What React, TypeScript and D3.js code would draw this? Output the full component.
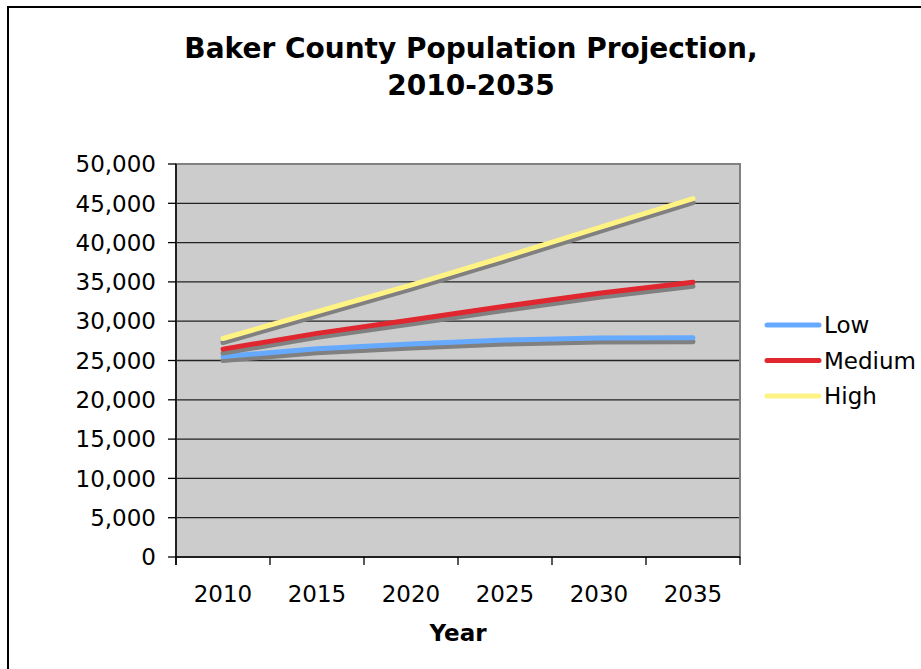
import React from "react";
import * as d3 from "d3";

const years = ["2010", "2015", "2020", "2025", "2030", "2035"];
const lowValues = [25500, 26500, 27100, 27600, 27850, 27900];
const mediumValues = [26450, 28450, 30150, 31900, 33550, 34950];
const highValues = [27800, 31200, 34600, 38200, 41900, 45600];
const yTicks = [0, 5000, 10000, 15000, 20000, 25000, 30000, 35000, 40000, 45000, 50000];
const seriesNames = ["Low", "Medium", "High"];
const seriesColors = ["#66aaff", "#e0262e", "#fff383"];

const W = 921;
const H = 669;
const plot = { left: 176, right: 740, top: 164, bottom: 557 };

export default function App() {
  const x = d3.scaleBand<string>().domain(years).range([plot.left, plot.right]);
  const y = d3.scaleLinear().domain([0, 50000]).range([plot.bottom, plot.top]);
  const fmt = d3.format(",");
  const line = d3
    .line<number>()
    .x((_, i) => (x(years[i]) as number) + x.bandwidth() / 2)
    .y((v) => y(v));
  const series = [lowValues, mediumValues, highValues];
  const boundaries = years.map((yr) => x(yr) as number).concat([plot.right]);

  return (
    <div style={{ position: "fixed", left: 0, top: 0 }}>
      <svg width={W} height={H} style={{ display: "block", background: "#fff" }}>
        <rect x={8} y={7} width={W + 20} height={H + 20} fill="#fff" stroke="#000" strokeWidth={2} />
        <g fontFamily="DejaVu Sans" fontWeight="bold" fontSize={28} textAnchor="middle" fill="#000">
          <text x={471} y={58}>Baker County Population Projection,</text>
          <text x={471} y={95}>2010-2035</text>
        </g>
        <rect
          x={plot.left}
          y={plot.top}
          width={plot.right - plot.left}
          height={plot.bottom - plot.top}
          fill="#cccccc"
        />
        {yTicks.slice(1, -1).map((t) => (
          <line key={t} x1={plot.left} x2={plot.right} y1={y(t)} y2={y(t)} stroke="#222" strokeWidth={1.3} />
        ))}
        <rect
          x={plot.left}
          y={plot.top}
          width={plot.right - plot.left}
          height={plot.bottom - plot.top}
          fill="none"
          stroke="#808080"
          strokeWidth={2}
        />
        {/* axes */}
        <line x1={plot.left} x2={plot.left} y1={plot.top} y2={plot.bottom + 8} stroke="#000" strokeWidth={1.5} />
        <line x1={plot.left} x2={plot.right} y1={plot.bottom} y2={plot.bottom} stroke="#000" strokeWidth={1.5} />
        {yTicks.map((t) => (
          <g key={t}>
            <line x1={plot.left - 8} x2={plot.left} y1={y(t)} y2={y(t)} stroke="#000" strokeWidth={1.3} />
            <text
              x={156}
              y={y(t)}
              dy="0.36em"
              textAnchor="end"
              fontFamily="DejaVu Sans"
              fontSize={23}
              fill="#000"
            >
              {fmt(t)}
            </text>
          </g>
        ))}
        {boundaries.map((bx, i) => (
          <line key={i} x1={bx} x2={bx} y1={plot.bottom} y2={plot.bottom + 8} stroke="#000" strokeWidth={1.3} />
        ))}
        {years.map((yr) => (
          <text
            key={yr}
            x={(x(yr) as number) + x.bandwidth() / 2}
            y={602}
            textAnchor="middle"
            fontFamily="DejaVu Sans"
            fontSize={23}
            fill="#000"
          >
            {yr}
          </text>
        ))}
        <text x={458} y={641} textAnchor="middle" fontFamily="DejaVu Sans" fontWeight="bold" fontSize={23}>
          Year
        </text>
        {/* series */}
        {series.map((vals, i) => (
          <g key={seriesNames[i]}>
            <path
              d={line(vals) || ""}
              transform="translate(0,4)"
              fill="none"
              stroke="#808080"
              strokeWidth={5}
              strokeLinejoin="round"
              strokeLinecap="round"
            />
            <path
              d={line(vals) || ""}
              fill="none"
              stroke={seriesColors[i]}
              strokeWidth={5}
              strokeLinejoin="round"
              strokeLinecap="round"
            />
          </g>
        ))}
        {/* legend */}
        {seriesNames.map((name, i) => {
          const ly = 325 + i * 35.5;
          return (
            <g key={name}>
              <line x1={767} x2={819} y1={ly} y2={ly} stroke={seriesColors[i]} strokeWidth={5} strokeLinecap="round" />
              <text x={824} y={ly} dy="0.36em" fontFamily="DejaVu Sans" fontSize={23} fill="#000">
                {name}
              </text>
            </g>
          );
        })}
      </svg>
    </div>
  );
}
